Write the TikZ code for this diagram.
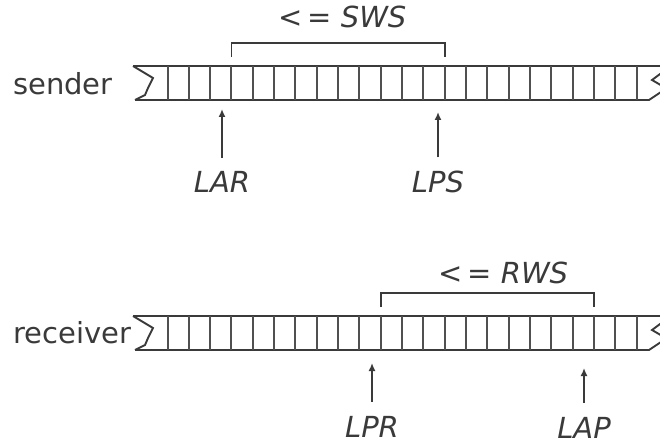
\documentclass[tikz,border=0pt]{standalone}
\usepackage{fontspec}
\setmainfont{DejaVu Sans}
\usetikzlibrary{arrows.meta}
\definecolor{ink}{HTML}{3A3A3A}
\definecolor{cellc}{HTML}{505050}
\begin{document}
\begin{tikzpicture}[x=1pt,y=-1pt,
  lbl/.style={font=\fontsize{29}{34}\selectfont, text=ink, inner sep=0pt, anchor=base west},
  ptr/.style={lbl, anchor=base, text depth=0pt},
  barline/.style={draw=ink, line width=1.9pt, line join=miter},
  cellline/.style={draw=cellc, line width=2pt},
  brk/.style={draw=ink, line width=1.9pt},
  arr/.style={draw=ink, line width=1.9pt, -{Latex[length=8pt,width=7pt]}, shorten <=14pt}]
\useasboundingbox (0,0) rectangle (660,446);
\begin{scope}
\clip (0,0) rectangle (660,446);
% sender bar (top 66, bottom 100), receiver bar (top 316, bottom 350)
\foreach \yt/\yb in {66/100, 316/350}{
  \draw[barline] (133,\yt) -- (153,\yt+12) -- (148,\yt+22) -- (145,\yt+29) -- (135,\yb);
  \draw[barline] (133,\yt) -- (664,\yt);
  \draw[barline] (135,\yb) -- (649,\yb) -- (664,\yb-10);
  \draw[barline] (664,\yt+5) -- (652,\yt+14) -- (664,\yt+21);
  \foreach \k in {0,...,22}{
    \draw[cellline] (167.5+\k*21.32,\yt) -- (167.5+\k*21.32,\yb);
  }
}
\end{scope}
% labels at left
\node[lbl] (sender) at (13,95) {sender};
\node[lbl] (receiver) at (13,343) {receiver};
% brackets
\coordinate (s1) at (231.5,57);
\coordinate (s2) at (444.7,57);
\draw[brk] (s1) -- ++(0,-14) -| (s2);
\coordinate (r1) at (380.7,307);
\coordinate (r2) at (593.9,307);
\draw[brk] (r1) -- ++(0,-14) -| (r2);
\node[lbl] (sws) at (278,28) {<\,= \textit{SWS}};
\node[lbl] (rws) at (438,283) {<\,= \textit{RWS}};
% pointer labels
\node[ptr] (lar) at (222,193) {\textit{LAR}};
\node[ptr] (lps) at (438,193) {\textit{LPS}};
\node[ptr] (lpr) at (372,437) {\textit{LPR}};
\node[ptr] (lap) at (584,438) {\textit{LAP}};
% arrow targets
\coordinate (larT) at (222,109);
\coordinate (lpsT) at (438,112);
\coordinate (lprT) at (372,363);
\coordinate (lapT) at (584,368);
\draw[arr] (lar.north) -- (larT);
\draw[arr] (lps.north) -- (lpsT);
\draw[arr] (lpr.north) -- (lprT);
\draw[arr] (lap.north) -- (lapT);
\end{tikzpicture}
\end{document}
